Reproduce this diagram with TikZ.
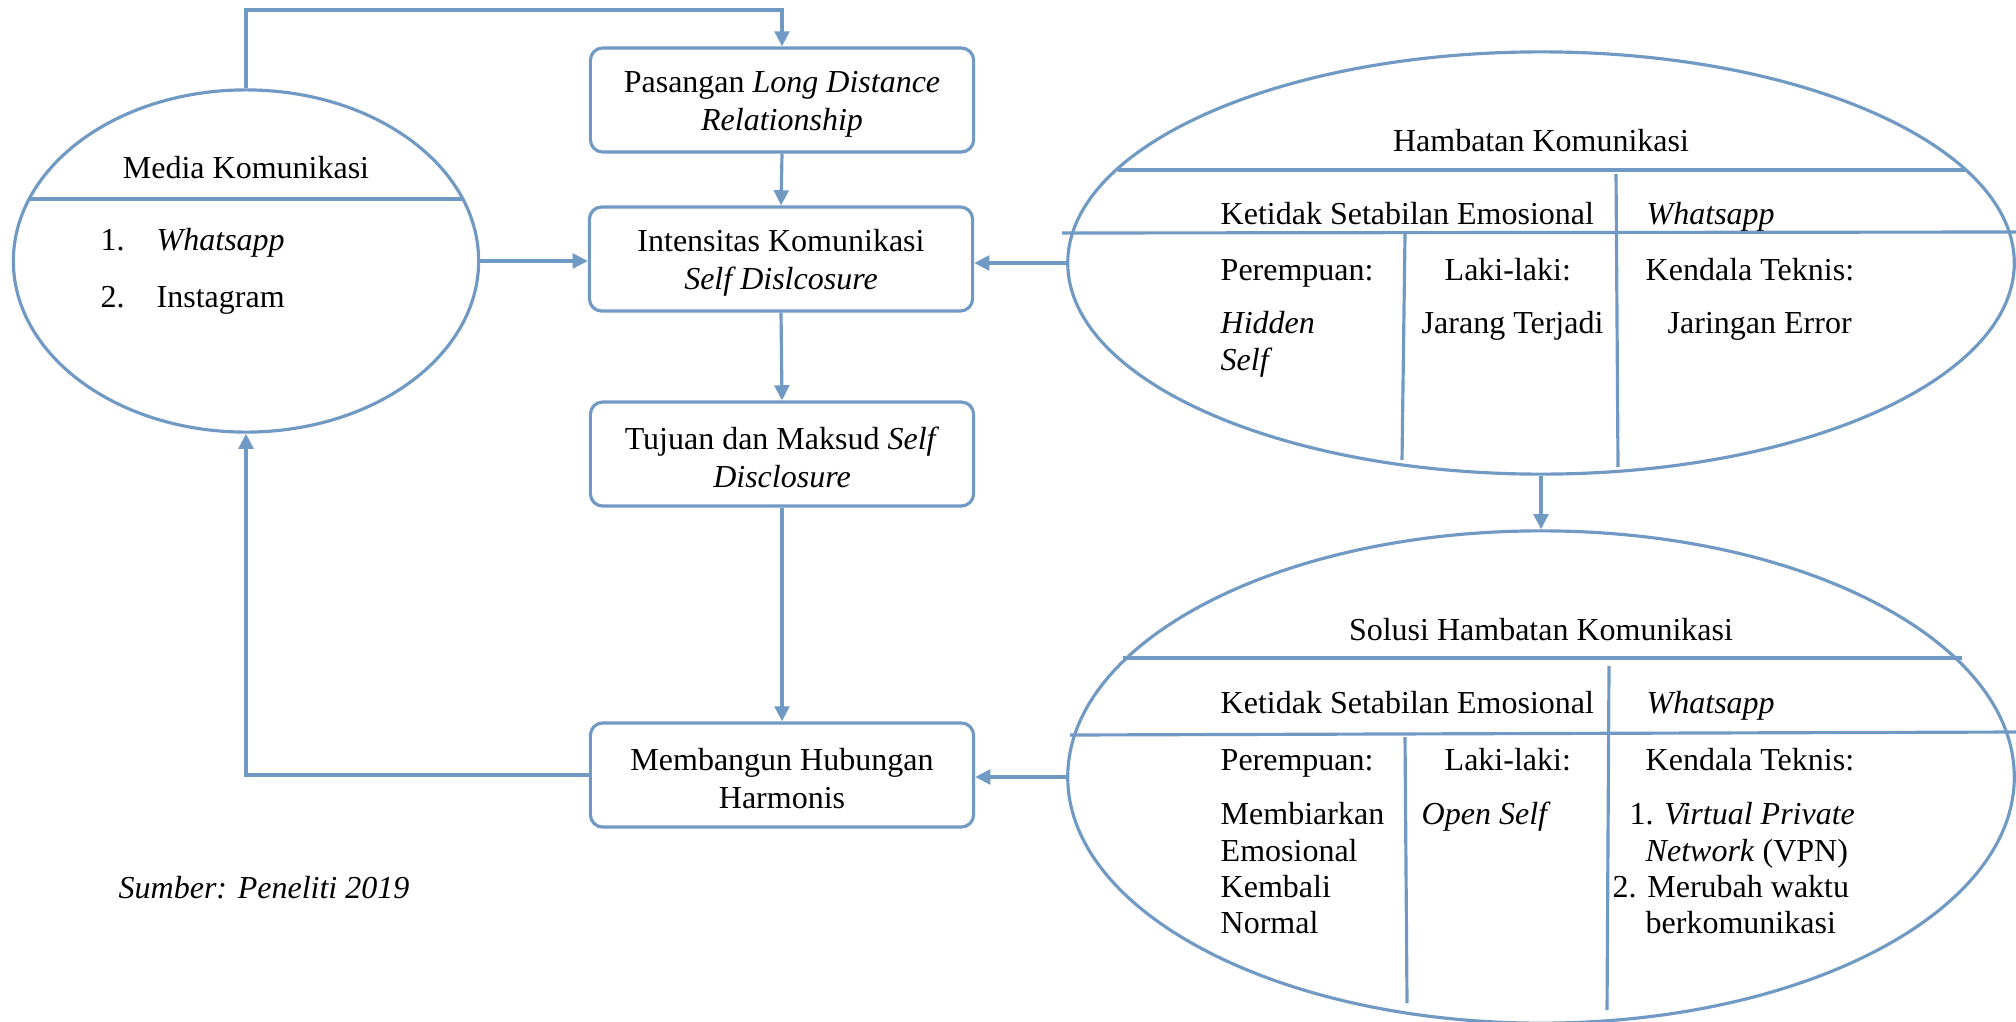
\documentclass[tikz,border=0pt]{standalone}
\usepackage{fontspec}
\setmainfont{Liberation Serif}
\usetikzlibrary{arrows.meta}
\usetikzlibrary{shapes.geometric}
\definecolor{biru}{RGB}{112,153,196}

\begin{document}
\begin{tikzpicture}[x=0.01cm, y=-0.01cm,
    garis/.style={draw=biru, line width=0.9pt},
    panah/.style={garis, -{Triangle[length=4.3pt, width=4.2pt]}},
    kotak/.style={garis, rounded corners=3.5pt, minimum width=3.83cm, minimum height=1.04cm, align=center, inner sep=0pt},
    lonjong/.style={garis, ellipse, inner sep=0pt},
    teks/.style={inner sep=0pt, anchor=base west},
    judul/.style={inner sep=0pt, anchor=base},
    every node/.append style={font=\fontsize{9.1}{10.8}\selectfont}]
    \useasboundingbox (0,0) rectangle (2016,1021);

    % ellipses
    \node[lonjong, minimum width=4.65cm, minimum height=3.42cm] (media) at (246,261) {};
    \node[lonjong, minimum width=9.46cm, minimum height=4.22cm] (hambatan) at (1541,263) {};
    \node[lonjong, minimum width=9.46cm, minimum height=4.92cm] (solusi) at (1541,777) {};

    % boxes
    \node[kotak] (pasangan) at (782,100) {\rule{0pt}{8.5pt}Pasangan \textit{Long Distance}\\\textit{Relationship}};
    \node[kotak] (intensitas) at (781,259) {\rule{0pt}{8.5pt}Intensitas Komunikasi\\\textit{Self Dislcosure}};
    \node[kotak] (tujuan) at (782,454) {\rule{0pt}{8.5pt}Tujuan dan Maksud \textit{Self}\\\textit{Disclosure}};
    \node[kotak] (harmonis) at (782,775) {\rule{0pt}{8.5pt}Membangun Hubungan\\Harmonis};

    % media komunikasi
    \draw[garis] (28,199) -- (463,199);
    \node[judul] (mjudul) at (246,178) {Media Komunikasi};
    \node[teks] (m1) at (100,250) {1.};
    \node[teks] (mwa) at (156,250) {\textit{Whatsapp}};
    \node[teks] (m2) at (100,307) {2.};
    \node[teks] (mig) at (156,307) {Instagram};

    % hambatan komunikasi
    \draw[garis] (1118,170) -- (1965,170);
    \draw[garis] (1062,233) -- (2016,232);
    \draw[garis] (1616,174) -- (1618,467);
    \draw[garis] (1405,234) -- (1402,460);
    \node[judul] (hjudul) at (1541,151) {Hambatan Komunikasi};
    \node[teks] (hemo) at (1220,224) {Ketidak Setabilan Emosional};
    \node[teks] (hwa) at (1646,224) {\textit{Whatsapp}};
    \node[teks] (hp) at (1220,280) {Perempuan:};
    \node[teks] (hl) at (1444,280) {Laki-laki:};
    \node[teks] (hk) at (1645,280) {Kendala Teknis:};
    \node[teks] (hp1) at (1220,333) {\textit{Hidden}};
    \node[teks] (hp2) at (1220,370) {\textit{Self}};
    \node[teks] (hl1) at (1421,333) {Jarang Terjadi};
    \node[teks] (hk1) at (1667,333) {Jaringan Error};

    % solusi hambatan komunikasi
    \draw[garis] (1123,658) -- (1962,658);
    \draw[garis] (1070,735) -- (2016,732);
    \draw[garis] (1609,666) -- (1607,1010);
    \draw[garis] (1405,737) -- (1407,1003);
    \node[judul] (sjudul) at (1541,640) {Solusi Hambatan Komunikasi};
    \node[teks] (semo) at (1220,713) {Ketidak Setabilan Emosional};
    \node[teks] (swa) at (1646,713) {\textit{Whatsapp}};
    \node[teks] (sp) at (1220,770) {Perempuan:};
    \node[teks] (sl) at (1444,770) {Laki-laki:};
    \node[teks] (sk) at (1645,770) {Kendala Teknis:};
    \node[teks] (sp1) at (1220,824) {Membiarkan};
    \node[teks] (sp2) at (1220,861) {Emosional};
    \node[teks] (sp3) at (1220,897) {Kembali};
    \node[teks] (sp4) at (1220,933) {Normal};
    \node[teks] (sl1) at (1421,824) {\textit{Open Self}};
    \node[teks] (sk1) at (1629,824) {1. \textit{Virtual Private}};
    \node[teks] (sk2) at (1645,861) {\textit{Network} (VPN)};
    \node[teks] (sk3) at (1612,897) {2. Merubah waktu};
    \node[teks] (sk4) at (1645,933) {berkomunikasi};

    \node[teks] (sumber) at (118,898) {\textit{Sumber: Peneliti 2019}};

    % connectors
    \coordinate (belok) at (246,10);
    \draw[panah] (media.north) -- (belok) -| (pasangan.north);
    \draw[panah] (pasangan.south) -- (intensitas.north);
    \draw[panah] (intensitas.south) -- (tujuan.north);
    \draw[panah] (tujuan.south) -- (harmonis.north);
    \draw[panah] (media.east) -- (media.east -| intensitas.west);
    \draw[panah] (hambatan.west) -- (hambatan.west -| intensitas.east);
    \draw[panah] (hambatan.south) -- (solusi.north);
    \draw[panah] (solusi.west) -- (solusi.west -| harmonis.east);
    \draw[panah] (harmonis.west) -| (media.south);
\end{tikzpicture}
\end{document}
